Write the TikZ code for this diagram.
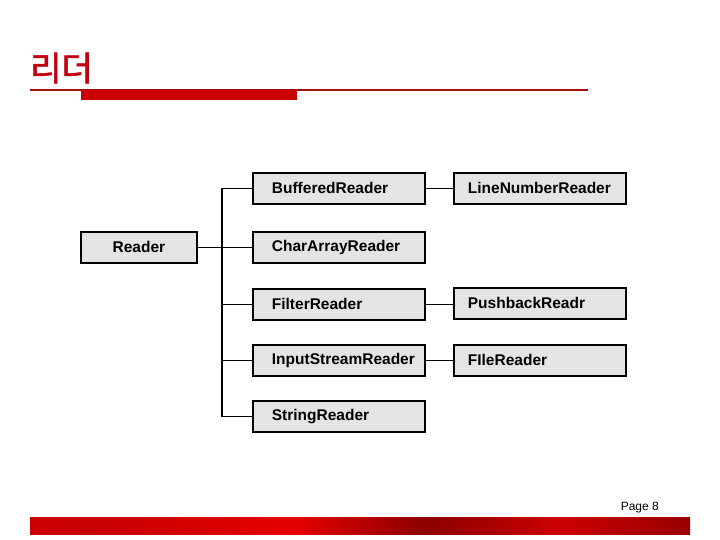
\documentclass[tikz,border=0pt]{standalone}
\usepackage{fontspec}
\setmainfont{Liberation Sans}
\newfontfamily\krfont[FakeBold=1.6]{Noto Sans CJK KR}
\definecolor{boxfill}{HTML}{E4E4E4}
\definecolor{titlered}{HTML}{C00010}
\definecolor{barred}{HTML}{CC0000}
\definecolor{linered}{HTML}{A01010}
\pgfdeclarehorizontalshading{bottombar}{100bp}{%
  color(0bp)=(red!75!black); color(15bp)=(red!85!black); color(30bp)=(red!78!black);
  color(45bp)=(red!90!black); color(55bp)=(red!55!black); color(65bp)=(red!80!black);
  color(75bp)=(red!60!black); color(85bp)=(red!92!black); color(100bp)=(red!95!black)}
\newcommand{\lefttext}[2]{\makebox[#1][l]{#2}}
\tikzset{
  cls/.style={draw=black, line width=1.8pt, fill=boxfill, minimum height=31pt,
    minimum width=172pt, anchor=north west, font=\bfseries\fontsize{15.5}{17}\selectfont,
    inner xsep=0pt},
  conn/.style={line width=1.4pt, draw=black},
}
\begin{document}
\begin{tikzpicture}[x=1pt,y=-1pt]
\useasboundingbox (0,0) rectangle (720,540);
% header
\node[anchor=west, inner sep=0pt, text=titlered, font=\krfont\fontsize{34}{36}\selectfont] (title) at (30,68) {리더};
\draw[linered, line width=1.2pt] (30,90) -- (588,90);
\fill[barred] (81,90) rectangle (297,100);
% boxes
\node[cls, minimum width=116pt] (reader) at (80,231) {Reader};
\node[cls] (buf) at (252,172) {\lefttext{134pt}{BufferedReader}};
\node[cls] (car) at (252,231) {\lefttext{134pt}{CharArrayReader}};
\node[cls] (fil) at (252,288) {\lefttext{134pt}{FilterReader}};
\node[cls] (isr) at (252,344) {\lefttext{134pt}{InputStreamReader}};
\node[cls] (str) at (252,400) {\lefttext{134pt}{StringReader}};
\node[cls] (lnr) at (453,172) {\lefttext{144pt}{LineNumberReader}};
\node[cls] (pbr) at (453,287) {\lefttext{144pt}{PushbackReadr}};
\node[cls] (frd) at (453,344) {\lefttext{144pt}{FIleReader}};
% bus
\coordinate (bustop) at (222,0 |- buf.west);
\coordinate (busbot) at (222,0 |- str.west);
\draw[conn] (bustop) -- (buf.west);
\draw[conn] (bustop) -- (busbot) -- (str.west);
\draw[conn] (reader.east) -- (car.west);
\draw[conn] (222,0 |- fil.west) -- (fil.west);
\draw[conn] (222,0 |- isr.west) -- (isr.west);
\draw[conn] (buf.east) -- (lnr.west |- buf.east);
\draw[conn] (fil.east) -- (pbr.west |- fil.east);
\draw[conn] (isr.east) -- (frd.west |- isr.east);
% footer
\node[anchor=east, inner sep=0pt, font=\fontsize{12}{14}\selectfont] (page) at (659,508) {Page 8};
\shade[shading=bottombar] (30,517) rectangle (690,534);
\end{tikzpicture}
\end{document}
